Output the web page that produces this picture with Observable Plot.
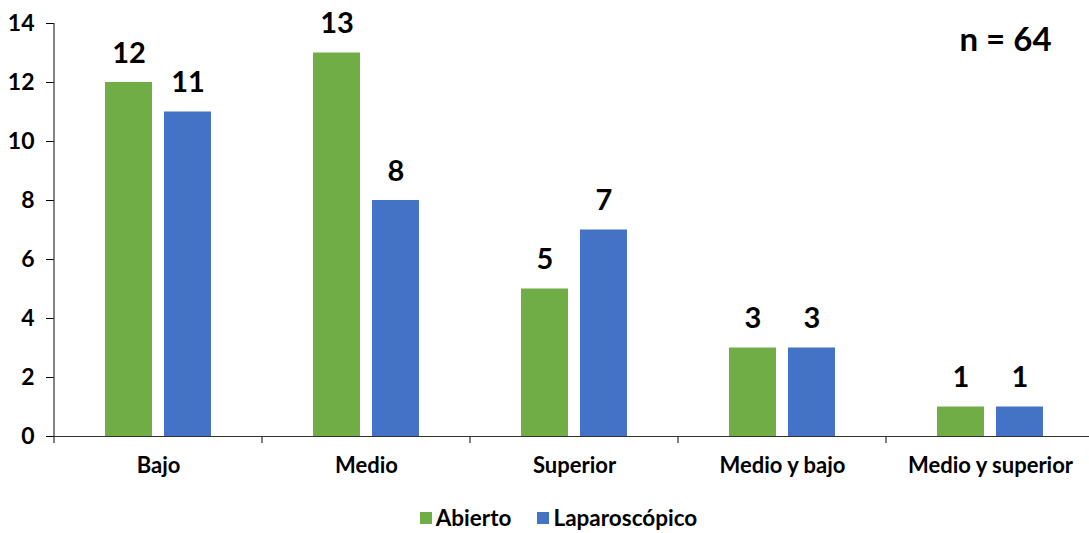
<!DOCTYPE html>
<html>
<head>
<meta charset="utf-8">
<script src="https://cdn.jsdelivr.net/npm/d3@7"></script>
<script src="https://cdn.jsdelivr.net/npm/@observablehq/plot@0.6"></script>
<style>
  body { margin: 0; background: #fff; font-family: Lato, "Open Sans", sans-serif; }
  #chart svg { display: block; overflow: visible; }
  .legend { display: flex; justify-content: center; align-items: center; gap: 26px;
            height: 43px; font-size: 22.5px; font-weight: 700; color: #000; padding-left: 28px; }
  .legend span.item { display: flex; align-items: center; gap: 4px; }
  .legend i { display: inline-block; width: 12px; height: 12px; }
</style>
</head>
<body>
<div id="chart"></div>
<script>
// Tumour location by surgical approach
const categories = ["Bajo", "Medio", "Superior", "Medio y bajo", "Medio y superior"];
const series = ["Abierto", "Laparoscópico"];
const abierto = [12, 13, 5, 3, 1];
const laparoscopico = [11, 8, 7, 3, 1];
const colors = ["#70AD47", "#4472C4"];
const yTicks = [0, 2, 4, 6, 8, 10, 12, 14];
const totalLabel = "n = 64";

const rows = categories.flatMap((c, i) => [
  {categoria: c, abordaje: series[0], n: abierto[i]},
  {categoria: c, abordaje: series[1], n: laparoscopico[i]}
]);

const W = 1089, H = 496;
const font = "Lato, 'Open Sans', sans-serif";

const chart = Plot.plot({
  width: W,
  height: H,
  marginLeft: 52,
  marginRight: -6,
  marginTop: 23,
  marginBottom: 60,
  style: {fontFamily: font, fontWeight: 700, color: "#000", background: "#fff"},
  fx: {domain: categories, padding: 0, label: null, axis: null},
  x: {domain: series, paddingInner: 0.21, paddingOuter: 0.85, axis: null},
  y: {domain: [0, 14], ticks: yTicks, label: null},
  color: {domain: series, range: colors},
  marks: [
    Plot.axisY({ticks: yTicks, tickSize: 8, tickPadding: 12, fontSize: 23, label: null, stroke: "#000"}),
    Plot.axisFx({anchor: "bottom", tickSize: 0, tickPadding: 21, fontSize: 22, label: null}),
    Plot.barY(rows, {fx: "categoria", x: "abordaje", y: "n", fill: "abordaje"}),
    Plot.ruleY([0], {stroke: "#333", strokeWidth: 1.2}),
    Plot.text(rows, {fx: "categoria", x: "abordaje", y: "n", text: d => String(d.n),
      dy: -29, fontSize: 29, fontWeight: 700, fill: "#000"}),
    Plot.text([totalLabel], {fx: [categories[categories.length - 1]], frameAnchor: "top",
      lineAnchor: "middle", dx: 15, dy: 17, fontSize: 33, fontWeight: 700, fill: "#000"})
  ]
});

// Excel-style axis details: y axis line and tick marks between category groups
const svg = d3.select(chart);
const y = chart.scale("y");
const fx = chart.scale("fx");
const y0 = y.apply(0), yTop = y.apply(14);
const x0 = fx.apply(categories[0]);
svg.append("line").attr("x1", x0).attr("x2", x0).attr("y1", yTop).attr("y2", y0)
  .attr("stroke", "#333").attr("stroke-width", 1.2);
const edges = categories.map(c => fx.apply(c));
edges.push(edges[edges.length - 1] + fx.bandwidth);
svg.selectAll("line.sep").data(edges).join("line").attr("class", "sep")
  .attr("x1", d => d).attr("x2", d => d).attr("y1", y0).attr("y2", y0 + 7)
  .attr("stroke", "#333").attr("stroke-width", 1.2);

document.getElementById("chart").append(chart);

// Legend below the plot
const legend = d3.select("body").append("div").attr("class", "legend");
series.forEach((s, i) => {
  const item = legend.append("span").attr("class", "item");
  item.append("i").style("background", colors[i]);
  item.append("span").text(s);
});
</script>
</body>
</html>
